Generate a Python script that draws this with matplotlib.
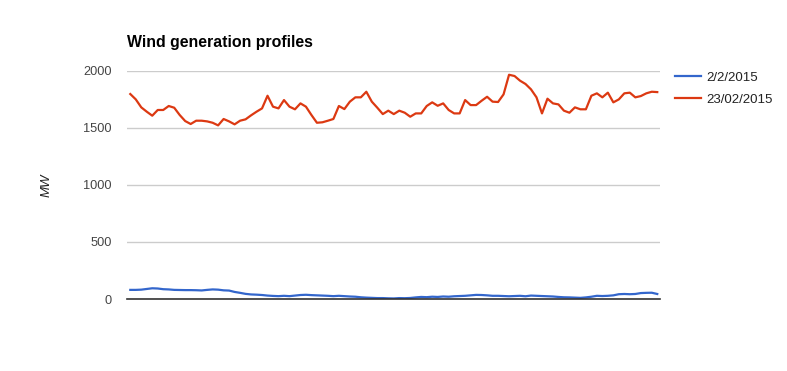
import numpy as np
import matplotlib.pyplot as plt

# 15-minute intervals over one day (97 points)
feb02 = [80, 80, 82, 88, 94, 92, 86, 84, 80, 79, 78, 78, 77, 75, 80, 84, 82, 76, 74, 62,
         54, 45, 40, 38, 35, 30, 27, 25, 28, 25, 30, 35, 37, 34, 32, 30, 28, 25, 28, 25,
         22, 20, 15, 12, 10, 8, 8, 6, 5, 8, 7, 9, 14, 18, 16, 20, 18, 22, 20, 24,
         26, 28, 32, 36, 35, 32, 28, 28, 26, 24, 26, 28, 24, 30, 28, 26, 24, 22, 18, 15,
         14, 12, 10, 14, 20, 28, 26, 28, 32, 42, 44, 42, 44, 52, 54, 55, 44]
feb23 = [1798, 1751, 1681, 1643, 1608, 1658, 1658, 1693, 1678, 1614, 1561, 1535, 1564, 1564,
         1558, 1546, 1523, 1579, 1558, 1532, 1564, 1576, 1611, 1643, 1672, 1783, 1687, 1672,
         1745, 1687, 1664, 1716, 1687, 1614, 1546, 1550, 1564, 1579, 1693, 1666, 1731, 1769,
         1769, 1818, 1731, 1678, 1622, 1652, 1622, 1652, 1634, 1599, 1628, 1628, 1693, 1725,
         1695, 1716, 1658, 1628, 1628, 1745, 1701, 1701, 1739, 1774, 1731, 1728, 1795, 1967,
         1956, 1915, 1886, 1839, 1769, 1628, 1757, 1716, 1707, 1652, 1634, 1681, 1664, 1664,
         1783, 1804, 1769, 1810, 1725, 1751, 1804, 1810, 1769, 1780, 1804, 1818, 1815]
labels = ['2/2/2015', '23/02/2015']
colors = ['#3366cc', '#dc3912']
yticks = [0, 500, 1000, 1500, 2000]

plt.rcParams['font.family'] = ['Liberation Sans', 'DejaVu Sans']

fig = plt.figure(figsize=(7.87, 3.71), dpi=100)
ax = fig.add_axes([127 / 787, 72 / 371, 533 / 787, 228 / 371])

x = np.arange(len(feb02))
for series, lab, col in zip([feb02, feb23], labels, colors):
    ax.plot(x, series, color=col, lw=1.6, label=lab, solid_joinstyle='round')

ax.set_xlim(-0.6, len(x) - 1 + 0.5)
ax.set_ylim(0, 2000)
ax.set_yticks(yticks)
ax.set_yticklabels([str(v) for v in yticks], fontsize=9.2, color='#444444')
ax.set_xticks([])
ax.tick_params(axis='y', length=0, pad=11)
for sp in ['top', 'right', 'left']:
    ax.spines[sp].set_visible(False)
ax.spines['bottom'].set_color('#333333')
ax.spines['bottom'].set_linewidth(1.2)
ax.grid(axis='y', color='#cccccc', lw=1)
ax.set_axisbelow(True)

ax.set_ylabel('MW', fontsize=9.5, style='italic', color='#222222', labelpad=22)
fig.text(127 / 787, 1 - 43 / 371, 'Wind generation profiles', fontsize=11.4,
         fontweight='bold', va='center', ha='left', color='#000000')

ax.legend(loc='upper left', bbox_to_anchor=(1.005, 1.05), frameon=False,
          fontsize=9.5, handlelength=2.0, handletextpad=0.4, labelspacing=0.75,
          labelcolor='#222222')

fig.savefig('out.png', dpi=100)
